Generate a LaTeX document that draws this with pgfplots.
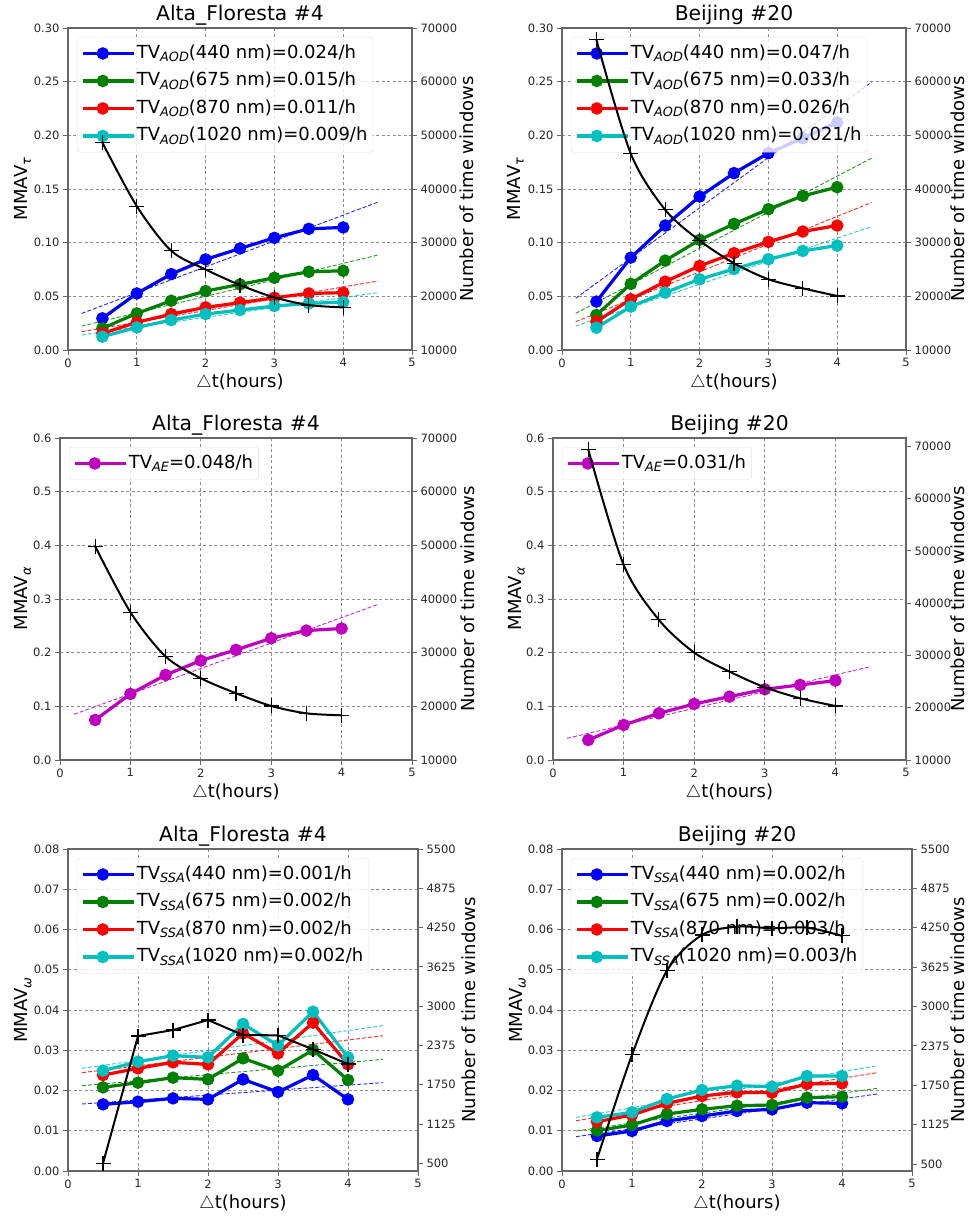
\documentclass[border=0pt]{standalone}
\usepackage{fontspec}
\setmainfont{DejaVu Sans}
\usepackage{pgfplots}
\pgfplotsset{compat=1.18}
\definecolor{mb}{rgb}{0,0,1}
\definecolor{mg}{rgb}{0,0.5,0}
\definecolor{mr}{rgb}{1,0,0}
\definecolor{mc}{rgb}{0,0.75,0.75}
\definecolor{mm}{rgb}{0.75,0,0.75}
\definecolor{spine}{gray}{0.4}
\newcommand\sub[1]{\raisebox{-3.5pt}{\fontsize{12.8}{13}\selectfont\itshape #1}}
\pgfplotsset{
 base/.style={scale only axis, xmin=0, xmax=5, tick align=outside, major tick length=5pt,
   scaled ticks=false,
   every tick/.style={spine, line width=0.9pt},
   axis line style={spine, line width=1.2pt},
   ticklabel style={font=\fontsize{11.5}{12}\selectfont, text=black!85},
   /pgf/number format/assume math mode=true,
   /pgf/number format/1000 sep={},
 },
 every axis title/.style={at={(0.5,1)}, anchor=base, yshift=8pt, font=\fontsize{20.3}{22}\selectfont},
 mainax/.style={base, tick pos=left, xtick={0,1,2,3,4,5}, grid=major,
   grid style={dash pattern=on 3pt off 2.5pt, line width=0.7pt, black!45},
   xlabel={$\triangle$t(hours)},
   xlabel style={at={(axis description cs:0.5,0)}, anchor=base, yshift=-37pt, font=\fontsize{18}{20}\selectfont},
   legend style={at={(0,1)}, anchor=north west, xshift=9pt, yshift=-9pt, draw=black!12, rounded corners=3pt,
     fill=white, fill opacity=0.8, text opacity=1, font=\fontsize{18}{20}\selectfont,
     inner xsep=4pt, inner ysep=6pt, row sep=7pt,
     nodes={inner sep=1.5pt, text height=13.5pt, text depth=4pt}},
   legend cell align=left,
   legend image post style={opacity=1},
   legend image code/.code={\draw[mark repeat=2, mark phase=2,##1] plot coordinates {(0pt,0pt) (20pt,0pt) (40pt,0pt)}; \path (0pt,0pt) -- (51pt,0pt);},
 },
 ylab/.style={ylabel style={at={([xshift=#1]axis description cs:0,0.5)}, anchor=base, inner sep=0pt, font=\fontsize{18}{20}\selectfont}},
 twinax/.style={base, axis x line=none, axis y line*=right, ylabel={Number of time windows}},
 rlab/.style={ylabel style={at={([xshift=#1]axis description cs:1,0.5)}, anchor=base, inner sep=0pt, font=\fontsize{18}{20}\selectfont}},
 dat/.style={line width=3.2pt, mark=*, mark size=4.6pt, mark options={solid}},
 fit/.style={line width=0.9pt, dash pattern=on 4pt off 2pt, opacity=0.85, forget plot},
 cnt/.style={black, line width=2pt, mark=+, mark size=7.5pt, mark options={line width=1.1pt}},
 aod/.style={ymin=0, ymax=0.30, ytick={0,0.05,0.10,0.15,0.20,0.25,0.30},
   yticklabel style={/pgf/number format/fixed, /pgf/number format/fixed zerofill, /pgf/number format/precision=2},
   ylabel={MMAV\sub{τ}}},
 ae/.style={ymin=0, ymax=0.6, ytick={0,0.1,0.2,0.3,0.4,0.5,0.6},
   yticklabel style={/pgf/number format/fixed, /pgf/number format/fixed zerofill, /pgf/number format/precision=1},
   ylabel={MMAV\sub{α}}},
 ssa/.style={ymin=0, ymax=0.08, ytick={0,0.01,0.02,0.03,0.04,0.05,0.06,0.07,0.08},
   yticklabel style={/pgf/number format/fixed, /pgf/number format/fixed zerofill, /pgf/number format/precision=2},
   ylabel={MMAV\sub{ω}}},
 bigN/.style={ytick={10000,20000,30000,40000,50000,60000,70000}},
 smallN/.style={ytick={500,1125,1750,2375,3000,3625,4250,4875,5500}},
}
\begin{document}
\begin{tikzpicture}
\path[use as bounding box] (0,0) rectangle (969pt,-1216pt);

%% Panel 1: Alta Floresta AOD
\begin{axis}[mainax, aod, ylab=-40.5pt, at={(68pt,-350pt)}, anchor=south west, width=344pt, height=322pt, title={Alta\_Floresta \#4}]
\addplot[mb, fit] coordinates {(0.2,0.0341) (4.5,0.1377)};
\addplot[mg, fit] coordinates {(0.2,0.0223) (4.5,0.0884)};
\addplot[mr, fit] coordinates {(0.2,0.0171) (4.5,0.0642)};
\addplot[mc, fit] coordinates {(0.2,0.0140) (4.5,0.0534)};
\addplot[mb, dat] coordinates {(0.5,0.0295) (1,0.0527) (1.5,0.0707) (2,0.0844) (2.5,0.0946) (3,0.1045) (3.5,0.1129) (4,0.1142)};
\addlegendentry{TV\sub{AOD}(440 nm)=0.024/h}
\addplot[mg, dat] coordinates {(0.5,0.0202) (1,0.0341) (1.5,0.0459) (2,0.0549) (2.5,0.0611) (3,0.0673) (3.5,0.0729) (4,0.0738)};
\addlegendentry{TV\sub{AOD}(675 nm)=0.015/h}
\addplot[mr, dat] coordinates {(0.5,0.0155) (1,0.0257) (1.5,0.0335) (2,0.0397) (2.5,0.0441) (3,0.0487) (3.5,0.0527) (4,0.0534)};
\addlegendentry{TV\sub{AOD}(870 nm)=0.011/h}
\addplot[mc, dat] coordinates {(0.5,0.0124) (1,0.0211) (1.5,0.0279) (2,0.0335) (2.5,0.0372) (3,0.0410) (3.5,0.0434) (4,0.0447)};
\addlegendentry{TV\sub{AOD}(1020 nm)=0.009/h}
\end{axis}
\begin{axis}[twinax, bigN, rlab=62pt, at={(68pt,-350pt)}, anchor=south west, width=344pt, height=322pt, ymin=10000, ymax=70000]
\addplot[cnt, smooth] coordinates {(0.5,48650) (1,36800) (1.5,28490) (2,25010) (2.5,22100) (3,19800) (3.5,18375) (4,17940)};
\end{axis}

%% Panel 2: Beijing AOD
\begin{axis}[mainax, aod, ylab=-42pt, at={(562pt,-350pt)}, anchor=south west, width=344pt, height=322pt, title={Beijing \#20}]
\addplot[mb, fit] coordinates {(0.2,0.0482) (4.5,0.2495)};
\addplot[mg, fit] coordinates {(0.2,0.0342) (4.5,0.1788)};
\addplot[mr, fit] coordinates {(0.2,0.0264) (4.5,0.1374)};
\addplot[mc, fit] coordinates {(0.2,0.0224) (4.5,0.1150)};
\addplot[mb, dat] coordinates {(0.5,0.0451) (1,0.0861) (1.5,0.1160) (2,0.1430) (2.5,0.1648) (3,0.1834) (3.5,0.1974) (4,0.2120)};
\addlegendentry{TV\sub{AOD}(440 nm)=0.047/h}
\addplot[mg, dat] coordinates {(0.5,0.0326) (1,0.0616) (1.5,0.0833) (2,0.1026) (2.5,0.1175) (3,0.1312) (3.5,0.1436) (4,0.1517)};
\addlegendentry{TV\sub{AOD}(675 nm)=0.033/h}
\addplot[mr, dat] coordinates {(0.5,0.0264) (1,0.0473) (1.5,0.0637) (2,0.0783) (2.5,0.0902) (3,0.1007) (3.5,0.1104) (4,0.1160)};
\addlegendentry{TV\sub{AOD}(870 nm)=0.026/h}
\addplot[mc, dat] coordinates {(0.5,0.0208) (1,0.0404) (1.5,0.0535) (2,0.0659) (2.5,0.0755) (3,0.0846) (3.5,0.0923) (4,0.0973)};
\addlegendentry{TV\sub{AOD}(1020 nm)=0.021/h}
\end{axis}
\begin{axis}[twinax, bigN, rlab=58pt, at={(562pt,-350pt)}, anchor=south west, width=344pt, height=322pt, ymin=10000, ymax=70000]
\addplot[cnt, smooth] coordinates {(0.5,67800) (1,46570) (1.5,36120) (2,30400) (2.5,26170) (3,23180) (3.5,21500) (4,20070)};
\end{axis}

%% Panel 3: Alta Floresta AE
\begin{axis}[mainax, ae, ylab=-32.5pt, at={(60pt,-760pt)}, anchor=south west, width=352pt, height=322pt, title={Alta\_Floresta \#4}]
\addplot[mm, fit] coordinates {(0.2,0.0852) (4.5,0.2891)};
\addplot[mm, dat] coordinates {(0.5,0.0746) (1,0.1231) (1.5,0.1585) (2,0.1853) (2.5,0.2052) (3,0.2269) (3.5,0.2412) (4,0.2450)};
\addlegendentry{TV\sub{AE}=0.048/h}
\end{axis}
\begin{axis}[twinax, bigN, rlab=62pt, at={(60pt,-760pt)}, anchor=south west, width=352pt, height=322pt, ymin=10000, ymax=70000]
\addplot[cnt, smooth] coordinates {(0.5,49800) (1,37550) (1.5,29280) (2,25240) (2.5,22440) (3,20070) (3.5,18700) (4,18330)};
\end{axis}

%% Panel 4: Beijing AE
\begin{axis}[mainax, ae, ylab=-32pt, at={(553pt,-760pt)}, anchor=south west, width=353pt, height=322pt, title={Beijing \#20}]
\addplot[mm, fit] coordinates {(0.2,0.0404) (4.5,0.1741)};
\addplot[mm, dat] coordinates {(0.5,0.0373) (1,0.0653) (1.5,0.0870) (2,0.1045) (2.5,0.1181) (3,0.1318) (3.5,0.1399) (4,0.1480)};
\addlegendentry{TV\sub{AE}=0.031/h}
\end{axis}
\begin{axis}[twinax, bigN, rlab=58pt, at={(553pt,-760pt)}, anchor=south west, width=353pt, height=322pt, ymin=10000, ymax=71600]
\addplot[cnt, smooth] coordinates {(0.5,69360) (1,47340) (1.5,36810) (2,30550) (2.5,26910) (3,23910) (3.5,21810) (4,20340)};
\end{axis}

%% Panel 5: Alta Floresta SSA
\begin{axis}[mainax, ssa, ylab=-40pt, at={(68pt,-1171pt)}, anchor=south west, width=350pt, height=322pt, title={Alta\_Floresta \#4}]
\addplot[mb, fit] coordinates {(0.2,0.01665) (4.5,0.02195)};
\addplot[mg, fit] coordinates {(0.2,0.0212) (4.5,0.02774)};
\addplot[mr, fit] coordinates {(0.2,0.02443) (4.5,0.03362)};
\addplot[mc, fit] coordinates {(0.2,0.02551) (4.5,0.03611)};
\addplot[mb, dat] coordinates {(0.5,0.01656) (1,0.01722) (1.5,0.01805) (2,0.0178) (2.5,0.02277) (3,0.01963) (3.5,0.02385) (4,0.0178)};
\addlegendentry{TV\sub{SSA}(440 nm)=0.001/h}
\addplot[mg, dat] coordinates {(0.5,0.02079) (1,0.02195) (1.5,0.02319) (2,0.02277) (2.5,0.02799) (3,0.02493) (3.5,0.03006) (4,0.02261)};
\addlegendentry{TV\sub{SSA}(675 nm)=0.002/h}
\addplot[mr, dat] coordinates {(0.5,0.02385) (1,0.02551) (1.5,0.0270) (2,0.0265) (2.5,0.0342) (3,0.02923) (3.5,0.03685) (4,0.0265)};
\addlegendentry{TV\sub{SSA}(870 nm)=0.002/h}
\addplot[mc, dat] coordinates {(0.5,0.02493) (1,0.02716) (1.5,0.02865) (2,0.02824) (2.5,0.03652) (3,0.03122) (3.5,0.03958) (4,0.02824)};
\addlegendentry{TV\sub{SSA}(1020 nm)=0.002/h}
\end{axis}
\begin{axis}[twinax, smallN, rlab=57pt, at={(68pt,-1171pt)}, anchor=south west, width=350pt, height=322pt, ymin=378, ymax=5500]
\addplot[cnt] coordinates {(0.5,500) (1,2525) (1.5,2621) (2,2780) (2.5,2541) (3,2536) (3.5,2313) (4,2080)};
\end{axis}

%% Panel 6: Beijing SSA
\begin{axis}[mainax, ssa, ylab=-40pt, at={(562pt,-1171pt)}, anchor=south west, width=350pt, height=322pt, title={Beijing \#20}]
\addplot[mb, fit] coordinates {(0.2,0.00853) (4.5,0.01913)};
\addplot[mg, fit] coordinates {(0.2,0.00994) (4.5,0.02054)};
\addplot[mr, fit] coordinates {(0.2,0.0125) (4.5,0.02443)};
\addplot[mc, fit] coordinates {(0.2,0.01333) (4.5,0.02617)};
\addplot[mb, dat] coordinates {(0.5,0.0087) (1,0.00994) (1.5,0.01242) (2,0.01366) (2.5,0.01491) (3,0.01532) (3.5,0.01698) (4,0.01681)};
\addlegendentry{TV\sub{SSA}(440 nm)=0.002/h}
\addplot[mg, dat] coordinates {(0.5,0.01002) (1,0.01143) (1.5,0.01416) (2,0.01532) (2.5,0.01623) (3,0.0164) (3.5,0.01822) (4,0.01847)};
\addlegendentry{TV\sub{SSA}(675 nm)=0.002/h}
\addplot[mr, dat] coordinates {(0.5,0.01226) (1,0.01391) (1.5,0.01681) (2,0.01863) (2.5,0.01954) (3,0.01946) (3.5,0.02161) (4,0.02178)};
\addlegendentry{TV\sub{SSA}(870 nm)=0.003/h}
\addplot[mc, dat] coordinates {(0.5,0.01333) (1,0.01458) (1.5,0.01789) (2,0.02012) (2.5,0.0212) (3,0.02095) (3.5,0.0236) (4,0.0236)};
\addlegendentry{TV\sub{SSA}(1020 nm)=0.003/h}
\end{axis}
\begin{axis}[twinax, smallN, rlab=52pt, at={(562pt,-1171pt)}, anchor=south west, width=350pt, height=322pt, ymin=390, ymax=5500]
\addplot[cnt, smooth] coordinates {(0.5,579) (1,2234) (1.5,3571) (2,4136) (2.5,4268) (3,4242) (3.5,4253) (4,4121)};
\end{axis}
\end{tikzpicture}
\end{document}
